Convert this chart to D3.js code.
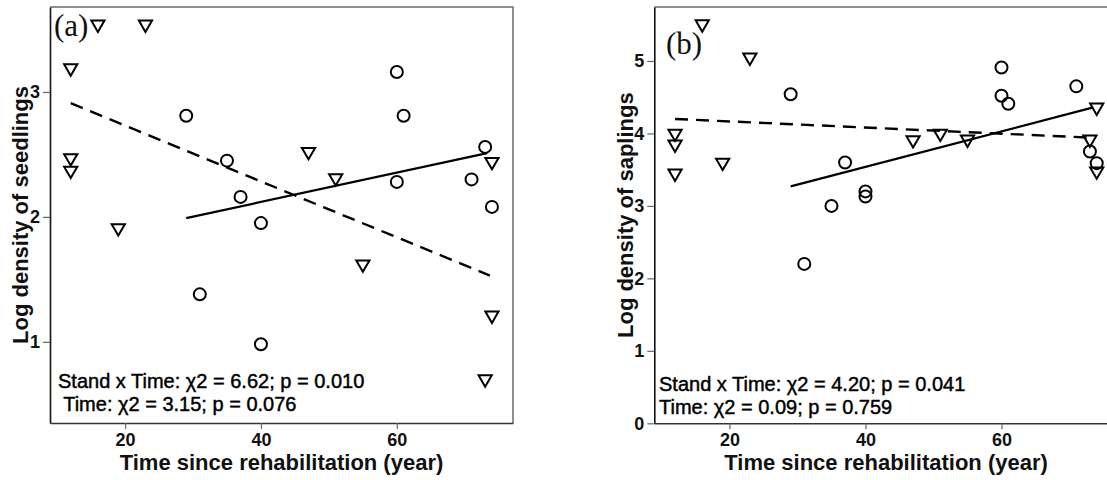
<!DOCTYPE html>
<html>
<head>
<meta charset="utf-8">
<script src="https://cdn.jsdelivr.net/npm/d3@7"></script>
<style>
  html, body { margin: 0; padding: 0; background: #fff; }
  svg { display: block; }
</style>
</head>
<body>
<svg id="chart" width="1107" height="480"></svg>
<script>
// ---------- Panel (a): seedlings ----------
const aCirclesX = [29, 35, 37, 40, 31, 40, 60, 61, 73, 60, 71, 74];
const aCirclesY = [2.81, 2.45, 2.16, 1.95, 1.38, 0.98, 3.16, 2.81, 2.56, 2.28, 2.30, 2.08];
const aTrianglesX = [16, 23, 12, 12, 12, 19, 47, 51, 55, 74, 74, 73];
const aTrianglesY = [3.53, 3.53, 3.18, 2.46, 2.36, 1.90, 2.51, 2.30, 1.61, 2.43, 1.20, 0.69];
const aSolidFit = [[29, 1.99], [73.3, 2.51]];
const aDashedFit = [[12, 2.91], [73.7, 1.53]];
const aYTicks = [1, 2, 3];
const aNote = ["Stand x Time: \u03C72 = 6.62; p = 0.010", " Time: \u03C72 = 3.15; p = 0.076"];

// ---------- Panel (b): saplings ----------
const bCirclesX = [29, 37, 35, 31, 40, 40, 60, 60, 61, 71, 73, 74];
const bCirclesY = [4.54, 3.60, 3.00, 2.20, 3.20, 3.13, 4.91, 4.52, 4.41, 4.65, 3.75, 3.59];
const bTrianglesX = [16, 23, 12, 12, 12, 19, 47, 51, 55, 74, 73, 74];
const bTrianglesY = [5.49, 5.03, 3.98, 3.83, 3.43, 3.58, 3.89, 3.98, 3.90, 4.34, 3.90, 3.46];
const bSolidFit = [[29, 3.27], [73.5, 4.36]];
const bDashedFit = [[12, 4.20], [73.5, 3.94]];
const bYTicks = [0, 1, 2, 3, 4, 5];
const bNote = ["Stand x Time: \u03C72 = 4.20; p = 0.041", "Time: \u03C72 = 0.09; p = 0.759"];

const xTicks = [20, 40, 60];
const xTitle = "Time since rehabilitation (year)";

const svg = d3.select("#chart");
const SANS = "'Liberation Sans', Arial, sans-serif";
const SERIF = "'Liberation Serif', 'Times New Roman', serif";

function drawPanel(cfg) {
  const x = d3.scaleLinear().domain([8.95, 77.1]).range([cfg.left, cfg.right]);
  const y = d3.scaleLinear().domain(cfg.yDomain).range([cfg.bottom, cfg.top]);
  const g = svg.append("g");

  // border (top/right)
  g.append("path")
    .attr("d", `M${cfg.left},${cfg.top}H${cfg.right}V${cfg.bottom}`)
    .attr("fill", "none").attr("stroke", "#6a6a6a").attr("stroke-width", 1.5);

  // x axis
  const xa = g.append("g").attr("transform", `translate(0,${cfg.bottom})`)
    .call(d3.axisBottom(x).tickValues(xTicks).tickFormat(d3.format("d"))
      .tickSize(6).tickPadding(4).tickSizeOuter(0));
  xa.select(".domain").attr("stroke", "#333").attr("stroke-width", 1.6);
  xa.selectAll(".tick line").attr("stroke", "#666").attr("stroke-width", 1.2);
  xa.selectAll("text").attr("font-family", SANS).attr("font-weight", "bold")
    .attr("font-size", 18).attr("fill", "#111");

  // y axis
  const ya = g.append("g").attr("transform", `translate(${cfg.left},0)`)
    .call(d3.axisLeft(y).tickValues(cfg.yTicks).tickFormat(d3.format("d"))
      .tickSize(7).tickPadding(3).tickSizeOuter(0));
  ya.select(".domain").attr("stroke", "#111").attr("stroke-width", 1.6);
  ya.selectAll(".tick line").attr("stroke", "#666").attr("stroke-width", 1.2);
  ya.selectAll("text").attr("font-family", SANS).attr("font-weight", "bold")
    .attr("font-size", 18).attr("fill", "#111");

  // fit lines
  const line = d3.line().x(d => x(d[0])).y(d => y(d[1]));
  g.append("path").datum(cfg.solid).attr("d", line)
    .attr("fill", "none").attr("stroke", "#000").attr("stroke-width", 2.2);
  g.append("path").datum(cfg.dashed).attr("d", line)
    .attr("fill", "none").attr("stroke", "#000").attr("stroke-width", 2.4)
    .attr("stroke-dasharray", "13,8");

  // circles
  const circ = cfg.cx.map((v, i) => [v, cfg.cy[i]]);
  g.selectAll(null).data(circ).enter().append("circle")
    .attr("cx", d => x(d[0])).attr("cy", d => y(d[1])).attr("r", 6)
    .attr("fill", "none").attr("stroke", "#000").attr("stroke-width", 2);

  // down triangles
  const tri = cfg.tx.map((v, i) => [v, cfg.ty[i]]);
  g.selectAll(null).data(tri).enter().append("path")
    .attr("transform", d => `translate(${x(d[0])},${y(d[1])})`)
    .attr("d", "M-6.6,-5.2L6.6,-5.2L0,6.2Z")
    .attr("fill", "none").attr("stroke", "#000").attr("stroke-width", 2)
    .attr("stroke-linejoin", "miter");

  // panel letter
  g.append("text").attr("x", cfg.letterX).attr("y", cfg.letterY)
    .attr("font-family", SERIF).attr("font-size", 31).attr("fill", "#111")
    .text(cfg.letter);

  // annotation
  cfg.note.forEach((t, i) => {
    g.append("text").attr("x", cfg.noteX).attr("y", cfg.noteY + i * 23)
      .attr("font-family", SANS).attr("font-size", 20).attr("fill", "#000")
      .attr("stroke", "#000").attr("stroke-width", 0.45)
      .attr("xml:space", "preserve").style("white-space", "pre")
      .text(t);
  });

  // axis titles
  g.append("text").attr("x", (cfg.left + cfg.right) / 2).attr("y", 470)
    .attr("text-anchor", "middle").attr("font-family", SANS).attr("font-weight", "bold")
    .attr("font-size", 22).attr("fill", "#111").text(xTitle);
  g.append("text")
    .attr("transform", `translate(${cfg.yTitleX},${(cfg.top + cfg.bottom) / 2}) rotate(-90)`)
    .attr("text-anchor", "middle").attr("dy", "0.35em")
    .attr("font-family", SANS).attr("font-weight", "bold")
    .attr("font-size", 22).attr("fill", "#111").text(cfg.yTitle);
}

drawPanel({
  left: 50, right: 513, top: 7, bottom: 423, yDomain: [0.35, 3.68], yTicks: aYTicks,
  cx: aCirclesX, cy: aCirclesY, tx: aTrianglesX, ty: aTrianglesY,
  solid: aSolidFit, dashed: aDashedFit, letter: "(a)", letterX: 54, letterY: 36,
  note: aNote, noteX: 58, noteY: 388, yTitle: "Log density of seedlings", yTitleX: 20
});
drawPanel({
  left: 654.3, right: 1117.8, top: 7, bottom: 423.3, yDomain: [0, 5.745], yTicks: bYTicks,
  cx: bCirclesX, cy: bCirclesY, tx: bTrianglesX, ty: bTrianglesY,
  solid: bSolidFit, dashed: bDashedFit, letter: "(b)", letterX: 666, letterY: 54,
  note: bNote, noteX: 659, noteY: 391, yTitle: "Log density of saplings", yTitleX: 625
});
</script>
</body>
</html>
